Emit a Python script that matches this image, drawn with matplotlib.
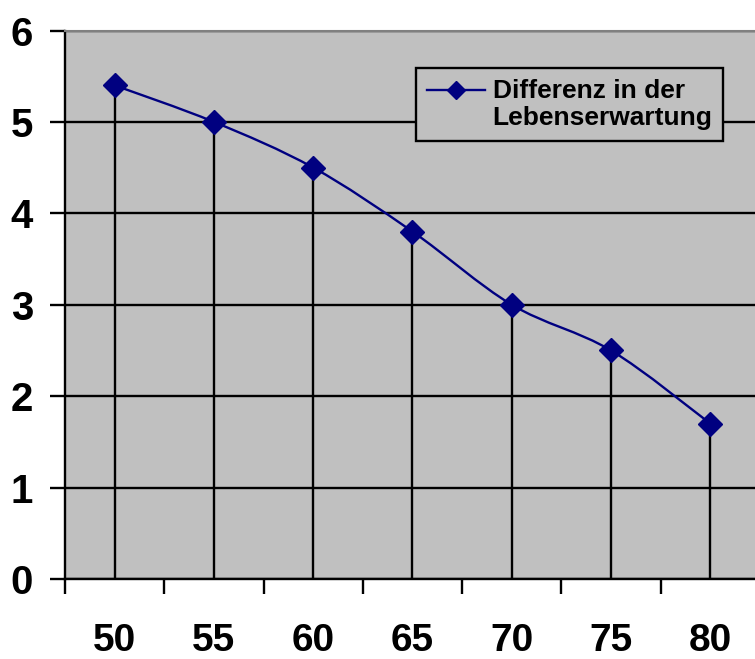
import numpy as np
import matplotlib.pyplot as plt
from matplotlib.path import Path
from matplotlib.patches import PathPatch
from matplotlib.lines import Line2D

ages = ['50', '55', '60', '65', '70', '75', '80']
differenz = [5.4, 5.0, 4.5, 3.8, 3.0, 2.5, 1.7]
series_name = 'Differenz in der\nLebenserwartung'
y_ticks = [0, 1, 2, 3, 4, 5, 6]

plt.rcParams['font.family'] = ['Liberation Sans', 'DejaVu Sans']
plt.rcParams['font.weight'] = 'bold'

navy = '#000080'
grey = '#c0c0c0'

fig = plt.figure(figsize=(7.55, 6.59), dpi=100)
ax = fig.add_axes([0.0861, 0.1214, 0.9205, 0.8323])
ax.set_facecolor(grey)

x = np.arange(len(ages))
ax.set_xlim(-0.5, len(ages) - 0.5)
ax.set_ylim(0, 6)

# grid + drop lines
ax.set_yticks(y_ticks)
ax.yaxis.grid(True, color='black', lw=1.7)
ax.set_axisbelow(True)
ax.vlines(x, 0, differenz, color='black', lw=1.7, zorder=2)

# smoothed line (excel style bezier)
pts = np.column_stack([x, differenz]).astype(float)
verts = [pts[0]]
codes = [Path.MOVETO]
for i in range(len(pts) - 1):
    p0 = pts[max(i - 1, 0)]
    p1 = pts[i]
    p2 = pts[i + 1]
    p3 = pts[min(i + 2, len(pts) - 1)]
    verts += [p1 + (p2 - p0) / 6, p2 - (p3 - p1) / 6, p2]
    codes += [Path.CURVE4] * 3
ax.add_patch(PathPatch(Path(verts, codes), fill=False, edgecolor=navy, lw=1.7, zorder=3))
ax.plot(x, differenz, linestyle='none', marker='D', ms=12, color=navy, zorder=4)

# ticks
ax.set_xticks(x, ages)
ax.set_xticks(np.arange(-0.5, len(ages)), minor=True)
ax.tick_params(axis='x', which='major', length=0, pad=32, labelsize=28)
ax.tick_params(axis='x', which='minor', length=11, width=1.7, direction='out')
ax.tick_params(axis='y', length=11, width=1.7, pad=12, labelsize=29)

for s in ['left', 'bottom']:
    ax.spines[s].set_linewidth(1.7)
ax.spines['top'].set_color('#808080')
ax.spines['top'].set_linewidth(1.5)
ax.spines['right'].set_visible(False)

handle = Line2D([], [], color=navy, lw=1.7, marker='D', ms=9.5)
leg = ax.legend([handle], [series_name], loc='upper right',
                bbox_to_anchor=(0.9576, 0.8968), bbox_transform=fig.transFigure,
                borderaxespad=0, fancybox=False, frameon=True, fontsize=19,
                handlelength=2.2, handletextpad=0.3, borderpad=0.4,
                handleheight=1.15)
leg.get_frame().set_facecolor(grey)
leg.get_frame().set_edgecolor('black')
leg.get_frame().set_linewidth(1.7)
leg.get_frame().set_alpha(1)
# put the marker next to the first text line, like excel
for col in leg._legend_handle_box.get_children():
    for row in col.get_children():
        row.align = 'top'

fig.savefig('out.png', dpi=100)
